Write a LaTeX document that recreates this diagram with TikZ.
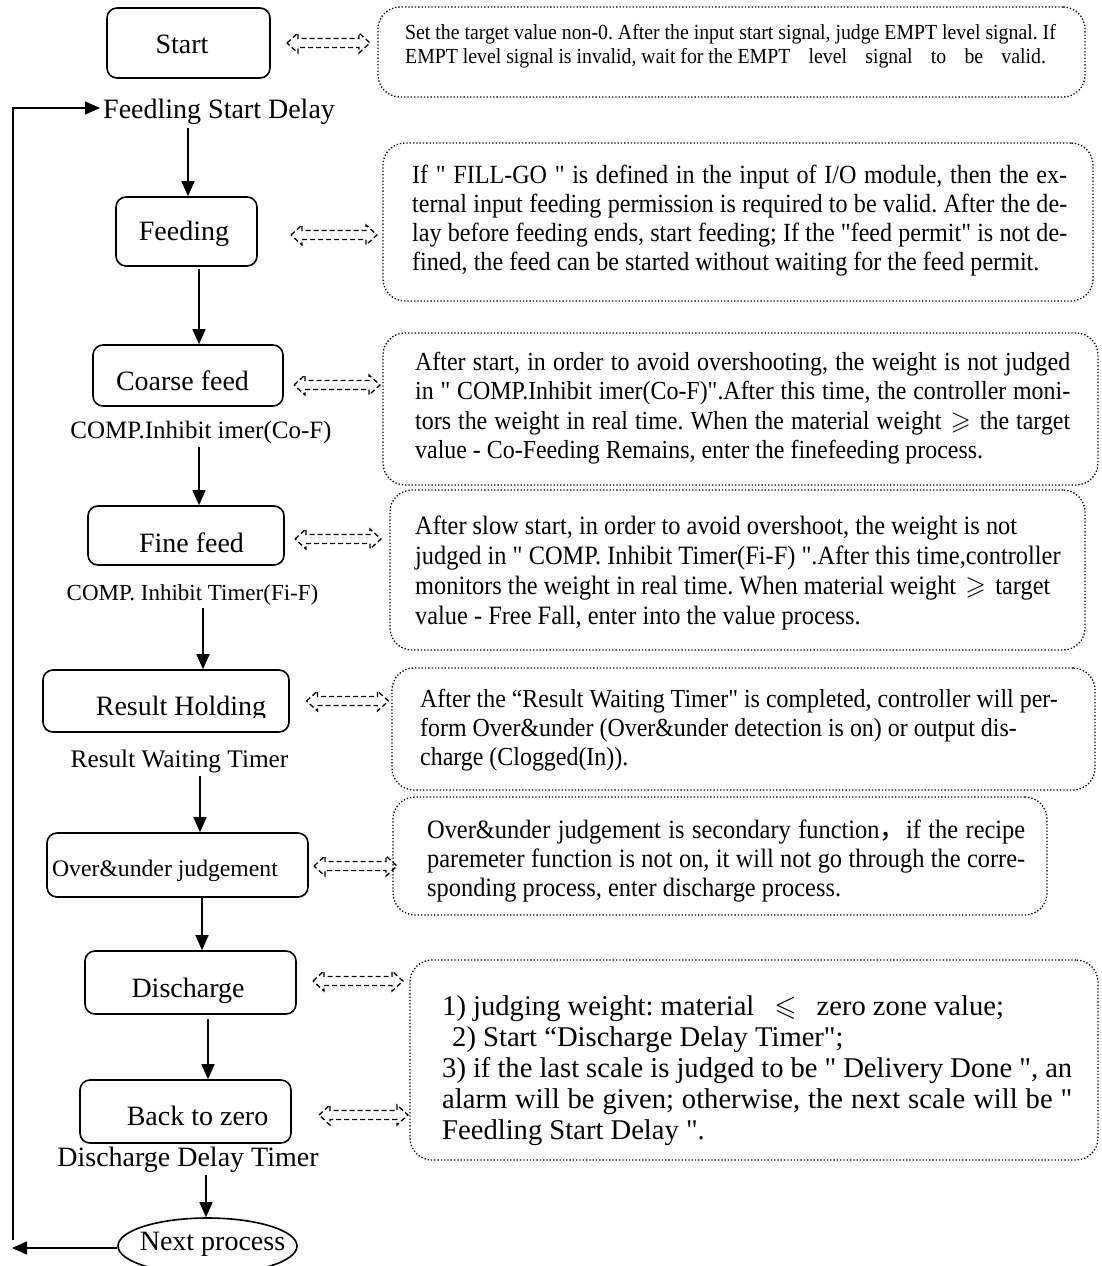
\documentclass[tikz,border=0pt]{standalone}
\usepackage{fontspec}
\setmainfont{Liberation Serif}
% plain families keep straight double quotes as typed
\newfontfamily\serif{Liberation Serif}
\newfontfamily\notefont[FakeStretch=0.92]{Liberation Serif}
\newfontfamily\cjkfont{Noto Sans CJK SC}
\usepackage{amssymb}
\usetikzlibrary{arrows.meta,shapes.geometric}

\newcommand\fs[2]{\serif\fontsize{#1}{#2}\selectfont}
\newcommand\nfs[2]{\notefont\fontsize{#1}{#2}\selectfont\frenchspacing}
\newcommand\jline[2]{\makebox[#1][s]{#2}}
\newcommand\gap{\hspace{0.85em}}
\newcommand\rel[1]{\hspace{0.35em}$#1$\hspace{0.35em}}
\newcommand\tlines[1]{\begin{tabular}[t]{@{}l@{}}#1\end{tabular}}

\begin{document}
\begin{tikzpicture}[x=1pt,y=-1pt,
  stepbox/.style={draw, line width=1.6pt, rounded corners=10pt, inner sep=0pt},
  steptext/.style={inner sep=0pt, anchor=base, font=\fs{28}{33}},
  note/.style={draw, dotted, line width=1.3pt, rounded corners=22pt, inner sep=0pt},
  notetext/.style={inner sep=0pt, anchor=base west},
  flow/.style={-{Triangle[length=15pt,width=13pt]}, line width=1.6pt},
  link/.style={draw, dash pattern=on 5pt off 3pt, line width=1.3pt},
  linkarrow/.pic={
    \draw[link] (-#1/2,0) -- ++(11,-10) -- ++(0,5.5) -- (#1/2-11,-4.5) -- ++(0,-5.5)
      -- (#1/2,0) -- ++(-11,10) -- ++(0,-5.5) -- (-#1/2+11,4.5) -- ++(0,5.5) -- cycle;}
]
\useasboundingbox (0,0) rectangle (1102,1266);

% ---- process steps ----
\node[stepbox, minimum width=163pt, minimum height=70pt] (start) at (188.5,43) {};
\node[steptext] (starttxt) at (182,53) {Start};

\node[steptext, anchor=base west] (feedling) at (103,118) {Feedling Start Delay};

\node[stepbox, minimum width=141pt, minimum height=69pt] (feeding) at (186.5,231.5) {};
\node[steptext] (feedingtxt) at (184,240) {Feeding};

\node[stepbox, minimum width=190pt, minimum height=61pt] (coarse) at (188,375.5) {};
\node[steptext] (coarsetxt) at (182.5,390) {Coarse feed};
\node[steptext, font=\fs{25}{30}] (compco) at (201,438) {COMP.Inhibit imer(Co-F)};

\node[stepbox, minimum width=196pt, minimum height=59pt] (fine) at (186,535.5) {};
\node[steptext] (finetxt) at (191.5,552) {Fine feed};
\node[steptext, font=\fs{23}{28}] (compfi) at (192.5,600) {COMP. Inhibit Timer(Fi-F)};

\node[stepbox, minimum width=246pt, minimum height=62pt] (result) at (166,701) {};
\begin{scope}
  \clip (40,660) rectangle (300,717);
  \node[steptext] (resulttxt) at (181,715) {Result Holding};
\end{scope}
\node[steptext, font=\fs{25.3}{30}] (rwt) at (179.5,767) {Result Waiting Timer};

\node[stepbox, minimum width=261pt, minimum height=64pt] (over) at (177.5,865) {};
\node[steptext, font=\fs{23.7}{28}] (overtxt) at (165,876) {Over\&under judgement};

\node[stepbox, minimum width=211pt, minimum height=63pt] (discharge) at (190.5,982.5) {};
\node[steptext] (dischargetxt) at (188,997) {Discharge};

\node[stepbox, minimum width=211pt, minimum height=63pt] (back) at (185.5,1111.5) {};
\node[steptext] (backtxt) at (197.5,1125) {Back to zero};
\node[steptext] (ddt) at (188,1166) {Discharge Delay Timer};

\node[draw, ellipse, line width=1.6pt, minimum width=179pt, minimum height=56pt, inner sep=0pt] (next) at (207.5,1246) {};
\node[steptext] (nexttxt) at (212.5,1250) {Next process};

% ---- flow arrows ----
\draw[flow] (feedling.south -| 188,0) ++(0,4) -- (feeding.north -| 188,0);
\draw[flow] (feeding.south -| 199,0) ++(0,2) -- (coarse.north -| 199,0);
\draw[flow] (compco.south -| 199,0) ++(0,3) -- (fine.north -| 199,0);
\draw[flow] (compfi.south -| 203,0) ++(0,3) -- (result.north -| 203,0);
\draw[flow] (rwt.south -| 200,0) ++(0,3) -- (over.north -| 200,0);
\draw[flow] (over.south -| 202,0) -- (discharge.north -| 202,0);
\draw[flow] (discharge.south -| 208,0) ++(0,4) -- (back.north -| 208,0);
\draw[flow] (ddt.south -| 206,0) ++(0,3) -- (next.north -| 206,0);

% ---- return loop ----
\coordinate (loopend) at (12,1248);
\coordinate (loopbot) at (13,1240);
\coordinate (looptop) at (13,108);
\draw[flow] (next.west |- loopend) -- (loopend);
\draw[flow] (loopbot) -- (looptop) -- ([xshift=-3pt]feedling.west |- looptop);

% ---- links to the notes ----
\pic (l1) at (328.5,43) {linkarrow=83};
\pic (l2) at (334,235) {linkarrow=86};
\pic (l3) at (337,385) {linkarrow=86};
\pic (l4) at (338,539) {linkarrow=86};
\pic (l5) at (347.5,701) {linkarrow=82};
\pic (l6) at (355.5,866) {linkarrow=83};
\pic (l7) at (358,981) {linkarrow=90};
\pic (l8) at (363.5,1115) {linkarrow=89};

% ---- notes ----
\node[note, minimum width=707pt, minimum height=90pt] (n1) at (731.5,52) {};
\node[notetext, font=\nfs{21.5}{24}] (n1txt) at (405,39) {\tlines{%
Set the target value non-0. After the input start signal, judge EMPT level signal. If\\
EMPT level signal is invalid, wait for the EMPT\gap level\gap signal\gap to\gap be\gap valid.}};

\node[note, minimum width=710pt, minimum height=158pt] (n2) at (738,222) {};
\node[notetext, font=\nfs{26.2}{29}] (n2txt) at (412,183) {\tlines{%
\jline{655pt}{If " FILL-GO " is defined in the input of I/O module, then the ex-}\\
\jline{655pt}{ternal input feeding permission is required to be valid. After the de-}\\
\jline{655pt}{lay before feeding ends, start feeding; If the "feed permit" is not de-}\\
fined, the feed can be started without waiting for the feed permit.}};

\node[note, minimum width=715pt, minimum height=152pt] (n3) at (740.5,409) {};
\node[notetext, font=\nfs{26}{29.5}] (n3txt) at (415,370) {\tlines{%
\jline{655pt}{After start, in order to avoid overshooting, the weight is not judged}\\
\jline{655pt}{in " COMP.Inhibit imer(Co-F)".After this time, the controller moni-}\\
\jline{655pt}{tors the weight in real time. When the material weight\rel{\geqslant}the target}\\
value - Co-Feeding Remains, enter the finefeeding process.}};

\node[note, minimum width=695pt, minimum height=160pt] (n4) at (737.5,570) {};
\node[notetext, font=\nfs{26.5}{30}] (n4txt) at (415,534) {\tlines{%
After slow start, in order to avoid overshoot, the weight is not\\
judged in " COMP. Inhibit Timer(Fi-F) ".After this time,controller\\
monitors the weight in real time. When material weight\rel{\geqslant}target\\
value - Free Fall, enter into the value process.}};

\node[note, minimum width=703pt, minimum height=122pt] (n5) at (743.5,729) {};
\node[notetext, font=\nfs{26}{29}] (n5txt) at (420,707) {\tlines{%
After the “Result Waiting Timer" is completed, controller will per-\\
form Over\&under (Over\&under detection is on) or output dis-\\
charge (Clogged(In)).}};

\node[note, minimum width=654pt, minimum height=118pt] (n6) at (720,856) {};
\node[notetext, font=\nfs{26.5}{29}] (n6txt) at (427,838) {\tlines{%
\jline{598pt}{Over\&under judgement is secondary function{\cjkfont ，}if the recipe}\\
\jline{598pt}{paremeter function is not on, it will not go through the corre-}\\
sponding process, enter discharge process.}};

\node[note, minimum width=688pt, minimum height=200pt] (n7) at (754,1060) {};
\node[notetext, font=\fs{28.6}{31}\frenchspacing] (n7txt) at (442,1015) {\tlines{%
1) judging weight: material\hspace{0.7em}$\leqslant$\hspace{0.7em}zero zone value;\\
\hspace{10pt}2) Start “Discharge Delay Timer";\\
\jline{630pt}{3) if the last scale is judged to be " Delivery Done ", an}\\
\jline{630pt}{alarm will be given; otherwise, the next scale will be "}\\
Feedling Start Delay ".}};
\end{tikzpicture}
\end{document}
